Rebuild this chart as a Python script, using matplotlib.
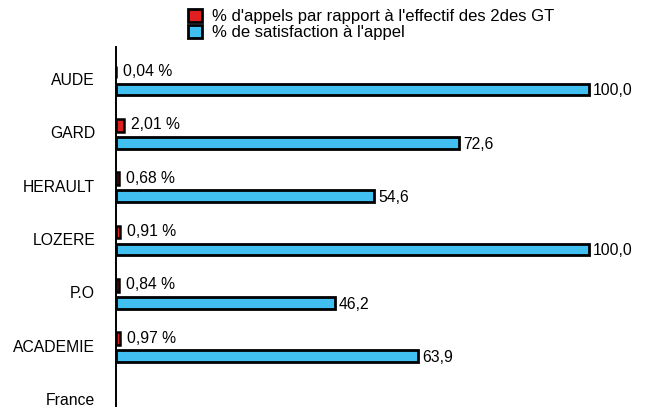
import numpy as np
import matplotlib
matplotlib.use('Agg')
import matplotlib.pyplot as plt
from matplotlib.patches import Patch

plt.rcParams['font.family'] = ['Liberation Sans', 'DejaVu Sans']

categories = ['AUDE', 'GARD', 'HERAULT', 'LOZERE', 'P.O', 'ACADEMIE', 'France']
appels = [0.04, 2.01, 0.68, 0.91, 0.84, 0.97]
satisfaction = [100.0, 72.6, 54.6, 100.0, 46.2, 63.9]
appels_labels = ['0,04 %', '2,01 %', '0,68 %', '0,91 %', '0,84 %', '0,97 %']
satisf_labels = ['100,0', '72,6', '54,6', '100,0', '46,2', '63,9']

red = '#e02020'
blue = '#40bff0'
fs = 11.3

fig = plt.figure(figsize=(6.46, 4.07), dpi=100)
# axis line at x=116px, 100 % reaches x=589px
ax = fig.add_axes([116/646, 0.0, 520/646, (407-47)/407])
ax2 = ax.twiny()  # the red series has its own (wider) scale

y = np.arange(len(appels))
ax2.barh(y - 0.13, appels, height=0.24, color=red, edgecolor='black', linewidth=1.8)
ax.barh(y + 0.195, satisfaction, height=0.22, color=blue, edgecolor='black', linewidth=2)

for i in range(len(appels)):
    ax2.annotate(appels_labels[i], (appels[i], y[i] - 0.14), xytext=(5, 0), textcoords='offset points',
                 va='center', ha='left', fontsize=fs)
    ax.annotate(satisf_labels[i], (satisfaction[i], y[i] + 0.22), xytext=(3, 0), textcoords='offset points',
                va='center', ha='left', fontsize=fs)

ax.set_xlim(0, 520/473*100)
ax2.set_xlim(0, 130)
ax.set_ylim(6.15, -0.6)
ax.set_yticks(range(len(categories)))
ax.set_yticklabels(categories, fontsize=fs)
ax.tick_params(axis='y', length=0, pad=15)
ax.set_xticks([])
ax2.set_xticks([])
for a in [ax, ax2]:
    for s in ['top', 'right', 'bottom']:
        a.spines[s].set_visible(False)
ax2.spines['left'].set_visible(False)
ax.spines['left'].set_linewidth(1.4)

handles = [Patch(facecolor=red, edgecolor='black', linewidth=2),
           Patch(facecolor=blue, edgecolor='black', linewidth=2)]
fig.legend(handles, ["% d'appels par rapport à l'effectif des 2des GT", "% de satisfaction à l'appel"],
           loc='upper left', bbox_to_anchor=(175/646, 1.01), frameon=False, fontsize=12,
           handlelength=0.8, handleheight=0.8, handletextpad=0.6, labelspacing=0.05,
           borderpad=0.3)

fig.savefig('out.png', dpi=100)
